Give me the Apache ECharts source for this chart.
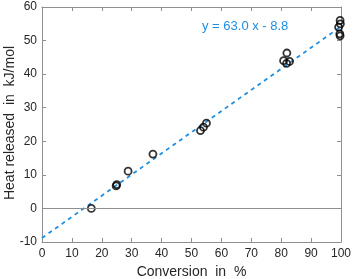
<!DOCTYPE html>
<html><head><meta charset="utf-8">
<script src="https://cdn.jsdelivr.net/npm/echarts@6/dist/echarts.min.js"></script>
<style>html,body{margin:0;padding:0;background:#fff}#c{width:354px;height:279px}</style>
</head><body><div id="c"></div>
<script>
const conversion = [16.5, 24.8, 25.0, 28.8, 37.1, 53.0, 54.0, 55.0, 80.8, 81.8, 82.8, 81.9, 99.2, 99.7, 99.8, 99.6, 99.7];
const heat = [0.0, 6.7, 7.1, 11.1, 16.2, 23.2, 24.2, 25.4, 44.0, 43.2, 43.8, 46.3, 54.0, 56.0, 55.0, 52.0, 51.4];
const fitX = [0, 100];
const fitY = [-8.8, 54.2];
const fitLabel = 'y = 63.0 x - 8.8';
const xName = 'Conversion  in  %';
const yName = 'Heat released  in  kJ/mol';
const xTicks = [0, 10, 20, 30, 40, 50, 60, 70, 80, 90, 100];
const yTicks = [-10, 0, 10, 20, 30, 40, 50, 60];

const axisGray = '#8f8f8f';
const textCol = '#262626';
const font = 'Liberation Sans, Arial, sans-serif';

const chart = echarts.init(document.getElementById('c'), null, {renderer: 'canvas'});
const baseX = {
  type: 'value', min: xTicks[0], max: xTicks[xTicks.length - 1], interval: 10,
  axisLine: {show: true, onZero: false, lineStyle: {color: axisGray, width: 1}},
  axisTick: {show: true, inside: true, length: 4, lineStyle: {color: axisGray}},
  splitLine: {show: false}
};
const baseY = {
  type: 'value', min: yTicks[0], max: yTicks[yTicks.length - 1], interval: 10,
  axisLine: {show: true, onZero: false, lineStyle: {color: axisGray, width: 1}},
  axisTick: {show: true, inside: true, length: 4, lineStyle: {color: axisGray}},
  splitLine: {show: false}
};
chart.setOption({
  animation: false,
  backgroundColor: '#fff',
  grid: {left: 42, right: 13, top: 7, bottom: 37, containLabel: false, outerBoundsMode: 'none'},
  xAxis: [
    Object.assign({}, baseX, {position: 'bottom',
      name: xName, nameLocation: 'middle', nameGap: 21,
      nameTextStyle: {color: textCol, fontSize: 14, fontFamily: font},
      axisLabel: {color: textCol, fontSize: 12, fontFamily: font, margin: 6}}),
    Object.assign({}, baseX, {position: 'top', axisLabel: {show: false}})
  ],
  yAxis: [
    Object.assign({}, baseY, {position: 'left',
      axisLabel: {color: textCol, fontSize: 12, fontFamily: font, margin: 5}}),
    Object.assign({}, baseY, {position: 'right', axisLabel: {show: false}})
  ],
  series: [
    {
      type: 'line', xAxisIndex: 0, yAxisIndex: 0,
      data: fitX.map((x, i) => [x, fitY[i]]),
      showSymbol: false, symbol: 'none', z: 2, silent: true,
      lineStyle: {color: '#1f8fe3', width: 1.8, type: [4, 4]},
      markLine: {
        silent: true, symbol: ['none', 'none'], label: {show: false},
        lineStyle: {color: axisGray, width: 1, type: 'solid'},
        data: [{yAxis: 0}]
      }
    },
    {
      type: 'scatter', xAxisIndex: 0, yAxisIndex: 0,
      data: conversion.map((x, i) => [x, heat[i]]),
      symbol: 'circle', symbolSize: 7, z: 3,
      itemStyle: {color: 'rgba(0,0,0,0)', borderColor: '#000', borderWidth: 1.8}
    }
  ],
  graphic: [
    {
      type: 'text', left: 202, top: 20,
      style: {text: fitLabel, fill: '#1f8fe3', font: '13px ' + font}
    },
    {
      type: 'text', x: 10, y: 123, rotation: Math.PI / 2,
      style: {text: yName, fill: textCol, font: '14px ' + font, align: 'center', verticalAlign: 'middle'}
    }
  ]
});
</script></body></html>
